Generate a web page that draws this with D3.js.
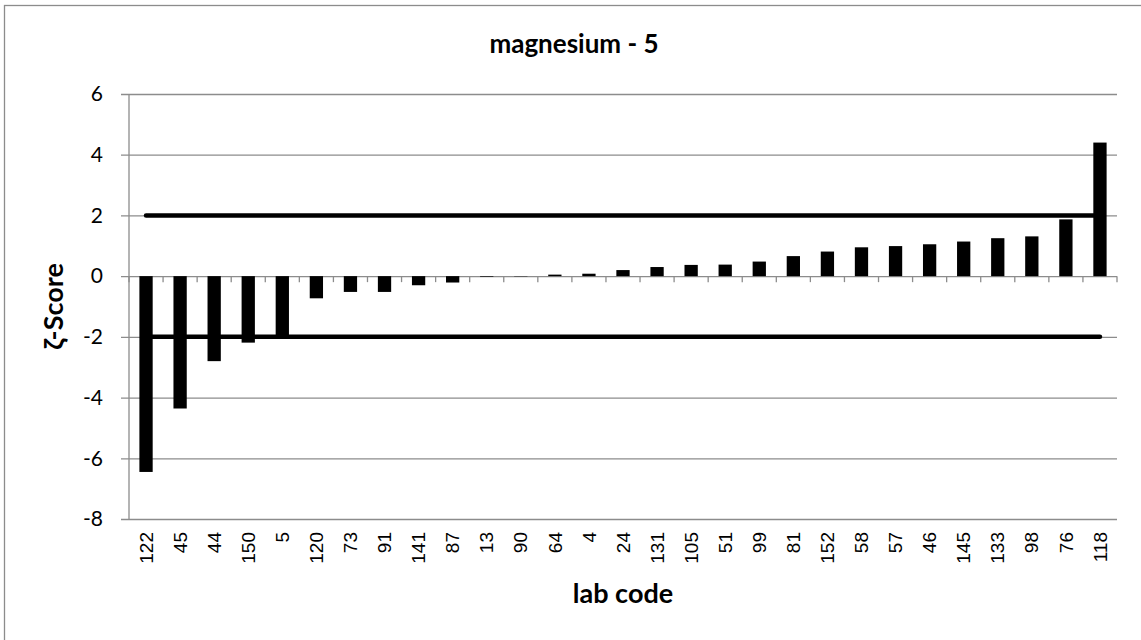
<!DOCTYPE html>
<html lang="en">

<head>
    <meta charset="UTF-8" />
    <title>magnesium - 5</title>
    <script src="https://d3js.org/d3.v7.min.js"></script>
    <style>
        body {
            margin: 0;
            background: #fff;
        }

        .grid line {
            stroke: #8c8c8c;
            stroke-width: 1.3;
        }

        .bar {
            fill: #000;
        }

        .limit {
            stroke: #000;
            stroke-width: 4.5;
            stroke-linecap: round;
        }
    </style>
</head>

<body>
    <svg width="1141" height="640"></svg>

    <script>
        const labCodes = ["122", "45", "44", "150", "5", "120", "73", "91", "141", "87",
            "13", "90", "64", "4", "24", "131", "105", "51", "99", "81",
            "152", "58", "57", "46", "145", "133", "98", "76", "118"];
        const zetaScores = [-6.45, -4.36, -2.8, -2.19, -1.95, -0.73, -0.52, -0.52, -0.3, -0.21,
            -0.02, -0.01, 0.05, 0.08, 0.2, 0.3, 0.37, 0.38, 0.48, 0.66,
            0.81, 0.95, 0.99, 1.05, 1.14, 1.25, 1.31, 1.87, 4.4];
        const yTicks = [-8, -6, -4, -2, 0, 2, 4, 6];
        const limits = [2, -2];

        const dataset = labCodes.map((lab, i) => ({ lab: lab, value: zetaScores[i] }));

        const plotLeft = 129, plotRight = 1117, plotTop = 94, plotBottom = 519;
        const calibriLike = "Lato, 'Open Sans', sans-serif";

        const svg = d3.select("svg");

        // chart area frame (right/bottom edges fall outside the picture)
        svg.append("rect")
            .attr("x", 4.5)
            .attr("y", 5.5)
            .attr("width", 1200)
            .attr("height", 700)
            .attr("fill", "none")
            .attr("stroke", "#8c8c8c")
            .attr("stroke-width", 1.3);

        const xScale = d3.scaleBand()
            .domain(labCodes)
            .range([plotLeft, plotRight])
            .paddingInner(0.61)
            .paddingOuter(0.305);

        const yScale = d3.scaleLinear()
            .domain([-8, 6])
            .range([plotBottom, plotTop]);

        // horizontal gridlines + y ticks
        const yAxis = svg.append("g")
            .attr("class", "grid")
            .attr("transform", `translate(${plotLeft},0)`)
            .call(d3.axisLeft(yScale)
                .tickValues(yTicks)
                .tickSize(-(plotRight - plotLeft))
                .tickPadding(0)
                .tickFormat(""));
        yAxis.select(".domain").remove();
        yAxis.selectAll(".tick line").attr("x1", -8);

        svg.append("line")
            .attr("x1", plotLeft).attr("x2", plotLeft)
            .attr("y1", plotTop).attr("y2", plotBottom)
            .attr("stroke", "#8c8c8c")
            .attr("stroke-width", 1.3);

        svg.append("g")
            .selectAll("text")
            .data(yTicks)
            .enter()
            .append("text")
            .attr("x", 103)
            .attr("y", d => yScale(d))
            .attr("dy", "0.35em")
            .attr("text-anchor", "end")
            .attr("font-family", calibriLike)
            .attr("font-size", "21px")
            .attr("fill", "#000")
            .text(d => d);

        // category ticks on the zero line
        const step = xScale.step();
        const tickPositions = d3.range(labCodes.length + 1).map(i => plotLeft + i * step);
        svg.append("g")
            .selectAll("line")
            .data(tickPositions)
            .enter()
            .append("line")
            .attr("x1", d => d).attr("x2", d => d)
            .attr("y1", yScale(0)).attr("y2", yScale(0) + 6)
            .attr("stroke", "#8c8c8c")
            .attr("stroke-width", 1.3);

        // bars
        svg.selectAll(".bar")
            .data(dataset)
            .enter()
            .append("rect")
            .attr("class", "bar")
            .attr("x", d => xScale(d.lab))
            .attr("width", xScale.bandwidth())
            .attr("y", d => yScale(Math.max(0, d.value)))
            .attr("height", d => Math.abs(yScale(d.value) - yScale(0)));

        // +/-2 limit lines
        const firstCenter = xScale(labCodes[0]) + xScale.bandwidth() / 2;
        const lastCenter = xScale(labCodes[labCodes.length - 1]) + xScale.bandwidth() / 2;
        svg.selectAll(".limit")
            .data(limits)
            .enter()
            .append("line")
            .attr("class", "limit")
            .attr("x1", firstCenter)
            .attr("x2", lastCenter)
            .attr("y1", d => yScale(d))
            .attr("y2", d => yScale(d));

        // x tick labels, rotated
        svg.append("g")
            .selectAll("text")
            .data(labCodes)
            .enter()
            .append("text")
            .attr("transform", d => `translate(${xScale(d) + xScale.bandwidth() / 2},532) rotate(-90)`)
            .attr("dy", "0.35em")
            .attr("text-anchor", "end")
            .attr("font-family", "'Liberation Sans', Arial, sans-serif")
            .attr("font-size", "19px")
            .attr("fill", "#000")
            .text(d => d);

        // titles
        svg.append("text")
            .attr("x", 574)
            .attr("y", 53)
            .attr("text-anchor", "middle")
            .attr("font-family", calibriLike)
            .attr("font-weight", "bold")
            .attr("font-size", "26px")
            .text("magnesium - 5");

        svg.append("text")
            .attr("x", (plotLeft + plotRight) / 2)
            .attr("y", 603)
            .attr("text-anchor", "middle")
            .attr("font-family", calibriLike)
            .attr("font-weight", "bold")
            .attr("font-size", "27px")
            .text("lab code");

        svg.append("text")
            .attr("transform", `translate(63,${(plotTop + plotBottom) / 2}) rotate(-90)`)
            .attr("text-anchor", "middle")
            .attr("font-family", calibriLike)
            .attr("font-weight", "bold")
            .attr("font-size", "27px")
            .text("ζ-Score");
    </script>
</body>

</html>
